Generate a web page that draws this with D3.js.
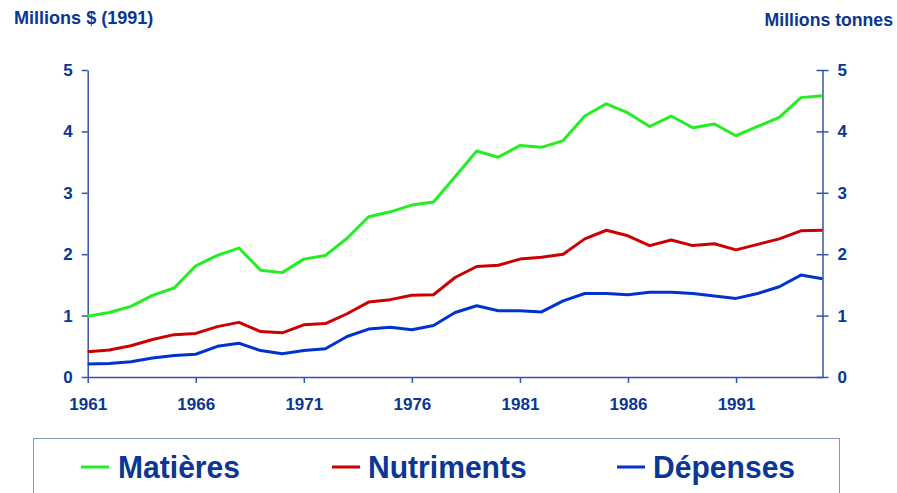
<!DOCTYPE html>
<html>
<head>
<meta charset="utf-8">
<script src="https://cdn.jsdelivr.net/npm/d3@7"></script>
<style>
  body { margin: 0; background: #fff; }
  text { font-family: Arial, "Liberation Sans", sans-serif; font-weight: bold; fill: #0a3694; }
</style>
</head>
<body>
<svg id="chart" width="897" height="493"></svg>
<script>
// years 1961..1995
const years = d3.range(1961, 1996);
const yTicks = [0, 1, 2, 3, 4, 5];
const xTicks = [1961, 1966, 1971, 1976, 1981, 1986, 1991];
const seriesNames = ["Matières", "Nutriments", "Dépenses"];

const matieres = [0.99, 1.05, 1.15, 1.33, 1.45, 1.81, 1.98, 2.10, 1.74, 1.70,
  1.92, 1.98, 2.26, 2.61, 2.69, 2.80, 2.85, 3.26, 3.68, 3.58,
  3.77, 3.74, 3.85, 4.25, 4.45, 4.30, 4.08, 4.25, 4.06, 4.12,
  3.93, 4.08, 4.23, 4.55, 4.58];
const nutriments = [0.41, 0.44, 0.51, 0.61, 0.69, 0.71, 0.82, 0.89, 0.74, 0.72,
  0.85, 0.87, 1.03, 1.22, 1.26, 1.33, 1.34, 1.62, 1.80, 1.82,
  1.92, 1.95, 2.00, 2.25, 2.39, 2.30, 2.14, 2.23, 2.14, 2.17,
  2.07, 2.16, 2.25, 2.38, 2.39];
const depenses = [0.21, 0.22, 0.25, 0.31, 0.35, 0.37, 0.50, 0.55, 0.43, 0.38,
  0.43, 0.46, 0.66, 0.78, 0.81, 0.77, 0.84, 1.05, 1.16, 1.08,
  1.08, 1.06, 1.24, 1.36, 1.36, 1.34, 1.38, 1.38, 1.36, 1.32,
  1.28, 1.36, 1.47, 1.66, 1.60];

const colors = ["#22ee22", "#cc0000", "#0033cc"];
const axisColor = "#3355a8";

const svg = d3.select("#chart");

const x = d3.scaleLinear().domain([1961, 1995]).range([87.7, 822.5]);
const y = d3.scaleLinear().domain([0, 5]).range([377, 70]);

// left axis
const gl = svg.append("g")
  .attr("transform", `translate(${x.range()[0]},0)`)
  .call(d3.axisLeft(y).tickValues(yTicks).tickSize(6).tickSizeOuter(0).tickPadding(9).tickFormat(d3.format("d")));

// right axis (ticks cross the line)
const gr = svg.append("g")
  .attr("transform", `translate(${x.range()[1]},0)`)
  .call(d3.axisRight(y).tickValues(yTicks).tickSize(6).tickSizeOuter(0).tickPadding(9).tickFormat(d3.format("d")));
gr.selectAll(".tick line").attr("x1", -6);

// bottom axis
const gb = svg.append("g")
  .attr("transform", `translate(0,${y(0)})`)
  .call(d3.axisBottom(x).tickValues(xTicks).tickSize(6).tickSizeOuter(0).tickPadding(15).tickFormat(d3.format("d")));

[gl, gr, gb].forEach(g => {
  g.select(".domain").attr("stroke", axisColor).attr("stroke-width", 1.5);
  g.selectAll(".tick line").attr("stroke", axisColor).attr("stroke-width", 1.5);
  g.selectAll(".tick text").style("font-size", "17px").attr("fill", "#0a3694");
});

// axis titles
svg.append("text")
  .attr("transform", "translate(14,24) scale(0.95,1)")
  .style("font-size", "19px")
  .text("Millions $ (1991)");
svg.append("text")
  .attr("transform", "translate(893,26) scale(0.93,1)")
  .attr("text-anchor", "end")
  .style("font-size", "19px")
  .text("Millions tonnes");

// lines
const line = d3.line()
  .x((d, i) => x(years[i]))
  .y(d => y(d));

[matieres, nutriments, depenses].forEach((s, k) => {
  svg.append("path")
    .datum(s)
    .attr("fill", "none")
    .attr("stroke", colors[k])
    .attr("stroke-width", 3)
    .attr("stroke-linejoin", "round")
    .attr("d", line);
});

// legend
svg.append("rect")
  .attr("x", 33.5).attr("y", 438.5)
  .attr("width", 806).attr("height", 80)
  .attr("fill", "none")
  .attr("stroke", "#8495c8")
  .attr("stroke-width", 1);

const legendX = [81, 332, 617];
const legendTextX = [118, 368, 653];
seriesNames.forEach((name, k) => {
  svg.append("line")
    .attr("x1", legendX[k]).attr("x2", legendX[k] + 28)
    .attr("y1", 467).attr("y2", 467)
    .attr("stroke", colors[k])
    .attr("stroke-width", 3);
  svg.append("text")
    .attr("transform", `translate(${legendTextX[k]},478) scale(0.94,1)`)
    .style("font-size", "32px")
    .text(name);
});
</script>
</body>
</html>
